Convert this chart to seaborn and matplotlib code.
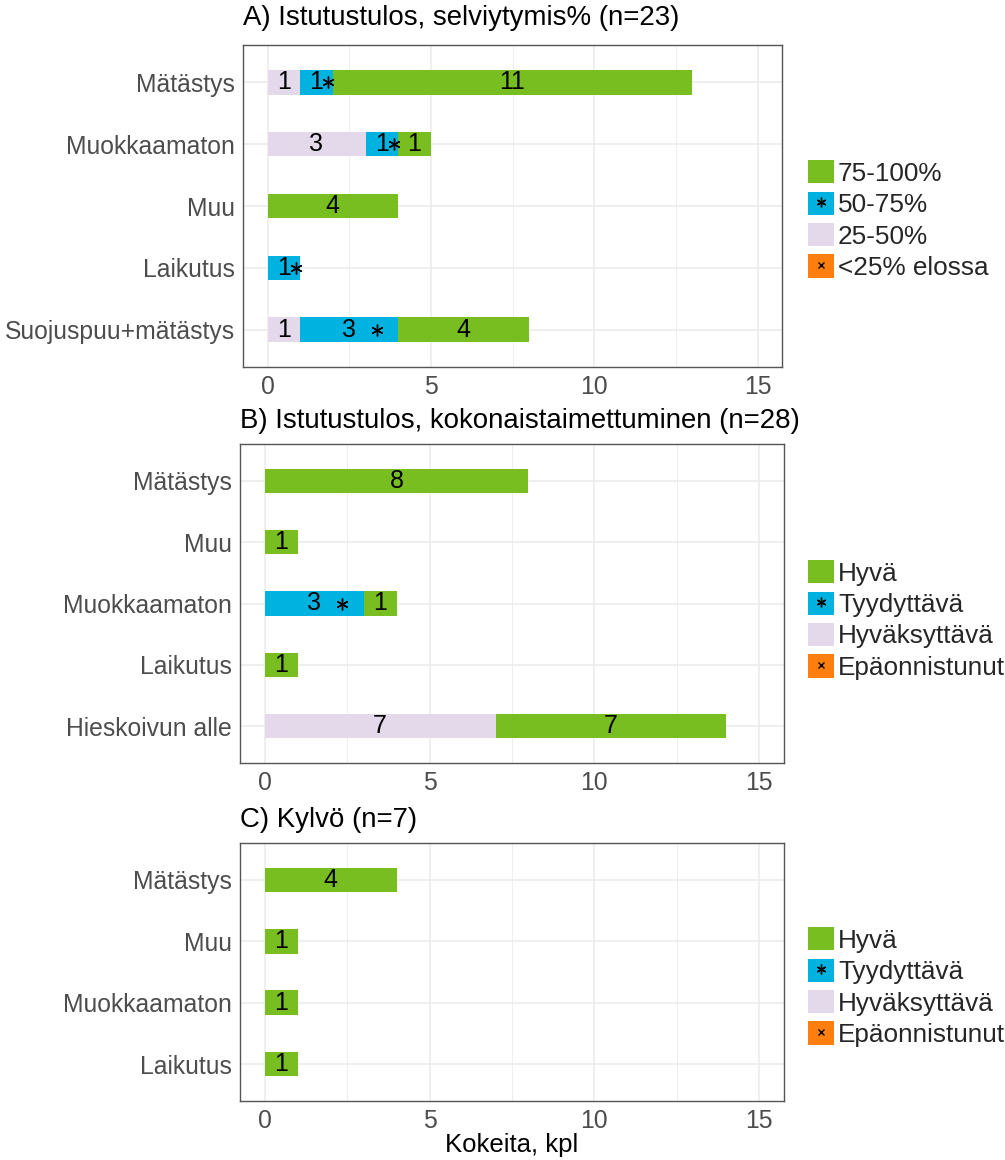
import numpy as np
import pandas as pd
import seaborn as sns
import matplotlib
matplotlib.use("Agg")
import matplotlib.pyplot as plt
from matplotlib.patches import Patch
from matplotlib.lines import Line2D

# ---------------- data ----------------
cats_A = ["Mätästys", "Muokkaamaton", "Muu", "Laikutus", "Suojuspuu+mätästys"]
A_lt25 = [0, 0, 0, 0, 0]
A_25_50 = [1, 3, 0, 0, 1]
A_50_75 = [1, 1, 0, 1, 3]
A_75_100 = [11, 1, 4, 0, 4]
labels_A = ["75-100%", "50-75%", "25-50%", "<25% elossa"]

cats_B = ["Mätästys", "Muu", "Muokkaamaton", "Laikutus", "Hieskoivun alle"]
B_epa = [0, 0, 0, 0, 0]
B_hyvaks = [0, 0, 0, 0, 7]
B_tyyd = [0, 0, 3, 0, 0]
B_hyva = [8, 1, 1, 1, 7]

cats_C = ["Mätästys", "Muu", "Muokkaamaton", "Laikutus"]
C_epa = [0, 0, 0, 0]
C_hyvaks = [0, 0, 0, 0]
C_tyyd = [0, 0, 0, 0]
C_hyva = [4, 1, 1, 1]
labels_BC = ["Hyvä", "Tyydyttävä", "Hyväksyttävä", "Epäonnistunut"]

titles = ["A) Istutustulos, selviytymis% (n=23)",
          "B) Istutustulos, kokonaistaimettuminen (n=28)",
          "C) Kylvö (n=7)"]
xticks = [0, 5, 10, 15]
xlabel = "Kokeita, kpl"

# ---------------- style ----------------
GREEN = "#78BE21"
BLUE = "#00B2E0"
LAV = "#E4D9EB"
ORANGE = "#FF7F0E"

sns.set_theme(style="white")
plt.rcParams["font.family"] = ["Liberation Sans", "DejaVu Sans"]

W, H = 1005, 1160
fig = plt.figure(figsize=(W / 100, H / 100), dpi=100)
fig.patch.set_facecolor("white")

# panel boxes in pixels: left, right, top, bottom
boxes = [(243, 782, 45, 367), (240, 784, 444, 763), (240, 784, 843, 1101)]
title_y = [18, 421, 820]
legend_y = [220, 620, 987]

panels = [
    (cats_A, [A_lt25, A_25_50, A_50_75, A_75_100], labels_A),
    (cats_B, [B_epa, B_hyvaks, B_tyyd, B_hyva], labels_BC),
    (cats_C, [C_epa, C_hyvaks, C_tyyd, C_hyva], labels_BC),
]
colors_stack = [ORANGE, LAV, BLUE, GREEN]  # left -> right stacking order

TICK_FS = 17.8
LABEL_FS = 18
LEG_FS = 18.8
TITLE_FS = 19.9

for i, (cats, series, leg_labels) in enumerate(panels):
    L, R, T, B = boxes[i]
    ax = fig.add_axes([L / W, 1 - B / H, (R - L) / W, (B - T) / H])
    df = pd.DataFrame({"cat": cats})
    cum = np.zeros(len(cats))
    cum_cols = []
    for k, s in enumerate(series):
        cum = cum + np.array(s, dtype=float)
        df[f"c{k}"] = cum
        cum_cols.append(f"c{k}")
    # draw cumulative bars from the longest (rightmost class) down
    for k in reversed(range(len(series))):
        sns.barplot(data=df, x=cum_cols[k], y="cat", order=cats, color=colors_stack[k],
                    saturation=1, width=0.4, orient="h", errorbar=None,
                    linewidth=0, ax=ax, zorder=3)
    # labels
    for j, c in enumerate(cats):
        left = 0.0
        for k, s in enumerate(series):
            v = s[j]
            if v > 0:
                ax.text(left + v / 2, j, f"{v}", ha="center", va="center",
                        fontsize=LABEL_FS, color="black", zorder=5)
                if k == 2:  # blue class carries asterisk pattern
                    off = min(0.36 * v, 0.85)
                    ax.plot([left + v / 2 + off], [j], marker=(6, 2, 0), ms=8.5,
                            mew=1.0, color="black", zorder=5, ls="none")
                if k == 0:
                    ax.plot([left + v / 2 + 0.3], [j], marker="x", ms=5,
                            mew=1.0, color="black", zorder=5, ls="none")
            left += v
    ax.set_xlim(-0.75, 15.75)
    ax.set_ylim(len(cats) - 1 + 0.6, -0.6)
    ax.set_xticks(xticks)
    ax.set_xticks([2.5, 7.5, 12.5], minor=True)
    ax.grid(True, which="major", color="#EBEBEB", lw=1.1, zorder=0)
    ax.grid(True, which="minor", axis="x", color="#EBEBEB", lw=0.6, zorder=0)
    ax.set_axisbelow(True)
    ax.set_ylabel("")
    ax.set_xlabel("")
    for sp in ax.spines.values():
        sp.set_visible(True)
        sp.set_color("#555555")
        sp.set_linewidth(1.0)
    ax.tick_params(axis="both", which="major", length=3.5, width=1.0, color="#333333",
                   labelsize=TICK_FS, labelcolor="#4D4D4D", pad=2.5)
    ax.tick_params(axis="x", which="minor", length=0)
    ax.tick_params(axis="x", pad=2)
    fig.text(L / W, 1 - title_y[i] / H, titles[i], fontsize=TITLE_FS,
             ha="left", va="center", color="black")
    if i == 2:
        ax.set_xlabel(xlabel, fontsize=18.5, color="black", labelpad=0)

    # legend
    handles = [
        Patch(facecolor=GREEN, edgecolor="none"),
        (Patch(facecolor=BLUE, edgecolor="none"),
         Line2D([], [], marker=(6, 2, 0), ms=7, mew=1.0, color="black", ls="none")),
        Patch(facecolor=LAV, edgecolor="none"),
        (Patch(facecolor=ORANGE, edgecolor="none"),
         Line2D([], [], marker="x", ms=5, mew=1.0, color="black", ls="none")),
    ]
    fig.legend(handles, leg_labels, loc="center left",
               bbox_to_anchor=(808 / W, 1 - legend_y[i] / H),
               frameon=False, fontsize=LEG_FS, handlelength=1.0, handleheight=1.0,
               labelspacing=0.22, handletextpad=0.15, borderpad=0, borderaxespad=0)

fig.savefig("out.png", dpi=100, facecolor="white")
